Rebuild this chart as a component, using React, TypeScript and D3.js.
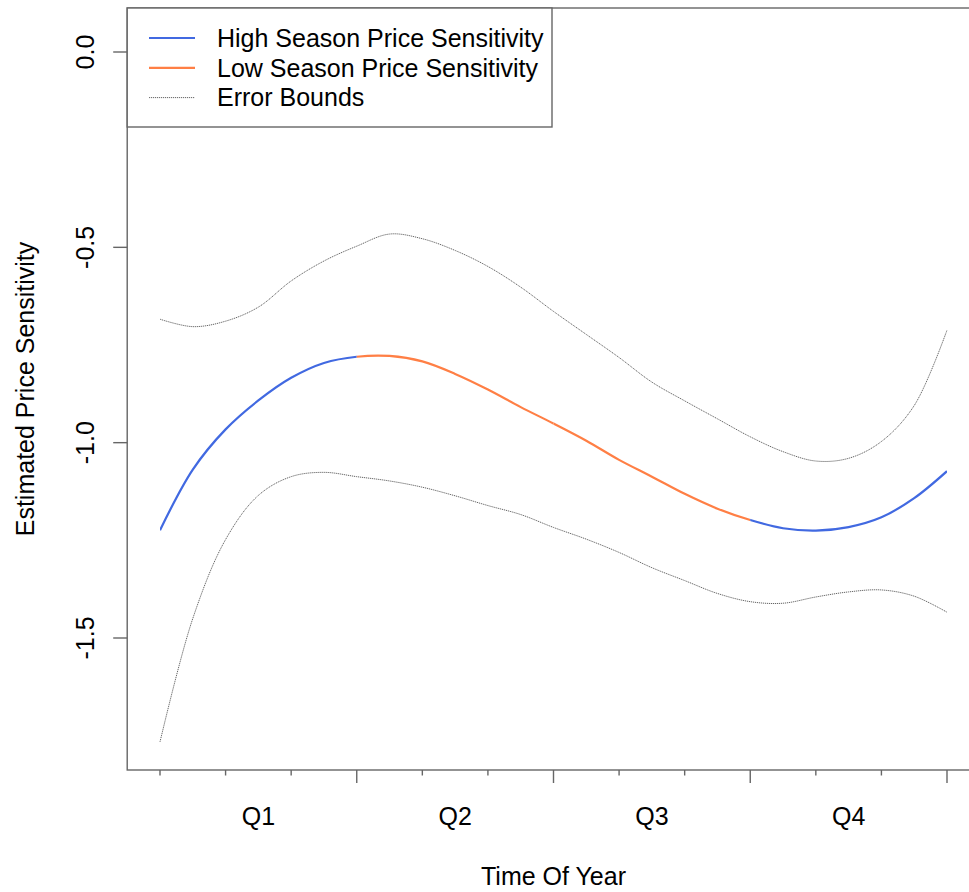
import { useEffect, useRef } from "react";
import * as d3 from "d3";

// time axis in months from the start of the year
const months = [0, 0.5, 1, 1.5, 2, 2.5, 3, 3.5, 4, 4.5, 5, 5.5, 6, 6.5, 7, 7.5, 8, 8.5, 9, 9.5, 10, 10.5, 11, 11.5, 12];

const estimate = [
  -1.224, -1.069, -0.966, -0.892, -0.834, -0.796, -0.78, -0.778, -0.792, -0.824, -0.864, -0.909, -0.951,
  -0.995, -1.044, -1.087, -1.131, -1.169, -1.198, -1.219, -1.225, -1.216, -1.191, -1.142, -1.073,
];

const upperBound = [
  -0.684, -0.703, -0.689, -0.653, -0.586, -0.535, -0.497, -0.466, -0.478, -0.508, -0.549, -0.602, -0.664,
  -0.723, -0.782, -0.845, -0.893, -0.939, -0.985, -1.023, -1.047, -1.04, -0.997, -0.905, -0.712,
];

const lowerBound = [
  -1.766, -1.45, -1.248, -1.135, -1.087, -1.076, -1.087, -1.098, -1.114, -1.136, -1.161, -1.184, -1.217,
  -1.247, -1.281, -1.32, -1.353, -1.386, -1.407, -1.411, -1.395, -1.382, -1.377, -1.393, -1.434,
];

const quarterLabels = ["Q1", "Q2", "Q3", "Q4"];
const quarterSeason = ["high", "low", "low", "high"];
const monthTicks = [0, 1, 2, 3, 4, 5, 6, 7, 8, 9, 10, 11, 12];
const yTicks = [0, -0.5, -1.0, -1.5];

const legendItems = [
  { label: "High Season Price Sensitivity", kind: "high" },
  { label: "Low Season Price Sensitivity", kind: "low" },
  { label: "Error Bounds", kind: "bound" },
];

const COLORS: Record<string, string> = { high: "#4169e1", low: "#ff7f45" };
const FONT = "'Liberation Sans', Arial, sans-serif";
const FS = 25;

type Pt = { m: number; v: number };

export default function App() {
  const svgRef = useRef<SVGSVGElement | null>(null);

  useEffect(() => {
    if (!svgRef.current) return;
    const svg = d3.select(svgRef.current);
    svg.selectAll("*").remove();

    const x = d3.scaleLinear().domain([0, 12]).range([160, 947]);
    const y = d3.scaleLinear().domain([0, -1.5]).range([52, 638]);
    const box = { left: x(-0.5), right: x(12.5), top: 8, bottom: 770 };

    const toPts = (vals: number[]): Pt[] => months.map((m, i) => ({ m, v: vals[i] }));
    const line = d3.line<Pt>().x((d) => x(d.m)).y((d) => y(d.v)).curve(d3.curveCatmullRom.alpha(0.5));

    // clip per quarter so the fitted line changes colour by season
    const defs = svg.append("defs");
    quarterSeason.forEach((_, q) => {
      defs.append("clipPath").attr("id", `q-clip-${q}`)
        .append("rect")
        .attr("x", x(q * 3)).attr("y", 0)
        .attr("width", x((q + 1) * 3) - x(q * 3)).attr("height", 892);
    });

    // error bounds
    [upperBound, lowerBound].forEach((b) => {
      svg.append("path")
        .datum(toPts(b))
        .attr("d", line)
        .attr("fill", "none")
        .attr("stroke", "#666")
        .attr("stroke-width", 1)
        .attr("stroke-dasharray", "1.2 0.8");
    });

    // estimate, coloured by season
    quarterSeason.forEach((s, q) => {
      svg.append("path")
        .datum(toPts(estimate))
        .attr("d", line)
        .attr("clip-path", `url(#q-clip-${q})`)
        .attr("fill", "none")
        .attr("stroke", COLORS[s])
        .attr("stroke-width", 2.2);
    });

    // plot box
    svg.append("rect")
      .attr("x", box.left).attr("y", box.top)
      .attr("width", box.right - box.left).attr("height", box.bottom - box.top)
      .attr("fill", "none").attr("stroke", "#666").attr("stroke-width", 1.4);

    // month ticks, long at quarter ends
    svg.append("g")
      .selectAll("line")
      .data(monthTicks)
      .join("line")
      .attr("x1", (d) => x(d)).attr("x2", (d) => x(d))
      .attr("y1", box.bottom)
      .attr("y2", (d) => box.bottom + (d > 0 && d % 3 === 0 ? 13 : 5.5))
      .attr("stroke", "#666").attr("stroke-width", 1.4);

    svg.append("g")
      .selectAll("text")
      .data(quarterLabels)
      .join("text")
      .attr("x", (_, i) => x(i * 3 + 1.5))
      .attr("y", 825)
      .attr("text-anchor", "middle")
      .attr("font-family", FONT).attr("font-size", FS)
      .text((d) => d);

    svg.append("text")
      .attr("x", (box.left + x(12.5)) / 2).attr("y", 885)
      .attr("text-anchor", "middle")
      .attr("font-family", FONT).attr("font-size", FS)
      .text("Time Of Year");

    // y axis
    svg.append("g")
      .selectAll("line")
      .data(yTicks)
      .join("line")
      .attr("x1", box.left - 14).attr("x2", box.left)
      .attr("y1", (d) => y(d)).attr("y2", (d) => y(d))
      .attr("stroke", "#666").attr("stroke-width", 1.4);

    svg.append("g")
      .selectAll("text")
      .data(yTicks)
      .join("text")
      .attr("transform", (d) => `translate(94,${y(d)}) rotate(-90)`)
      .attr("text-anchor", "middle")
      .attr("font-family", FONT).attr("font-size", FS)
      .text((d) => d3.format(".1f")(d).replace("−", "-"));

    svg.append("text")
      .attr("transform", `translate(34,${(box.top + box.bottom) / 2}) rotate(-90)`)
      .attr("text-anchor", "middle")
      .attr("font-family", FONT).attr("font-size", FS)
      .text("Estimated Price Sensitivity");

    // legend
    const lg = svg.append("g");
    lg.append("rect")
      .attr("x", box.left).attr("y", box.top)
      .attr("width", 552 - box.left).attr("height", 127 - box.top)
      .attr("fill", "white").attr("stroke", "#666").attr("stroke-width", 1.4);
    legendItems.forEach((it, i) => {
      const ly = 38 + i * 29.8;
      const l = lg.append("line")
        .attr("x1", 149).attr("x2", 195)
        .attr("y1", ly).attr("y2", ly);
      if (it.kind === "bound") {
        l.attr("stroke", "#666").attr("stroke-width", 1).attr("stroke-dasharray", "1.2 0.8");
      } else {
        l.attr("stroke", COLORS[it.kind]).attr("stroke-width", 2.2);
      }
      lg.append("text")
        .attr("x", 217).attr("y", ly + 8.7)
        .attr("font-family", FONT).attr("font-size", FS)
        .text(it.label);
    });
  }, []);

  return (
    <svg
      ref={svgRef}
      width={969}
      height={892}
      style={{ position: "absolute", left: 0, top: 0, background: "white" }}
    />
  );
}
